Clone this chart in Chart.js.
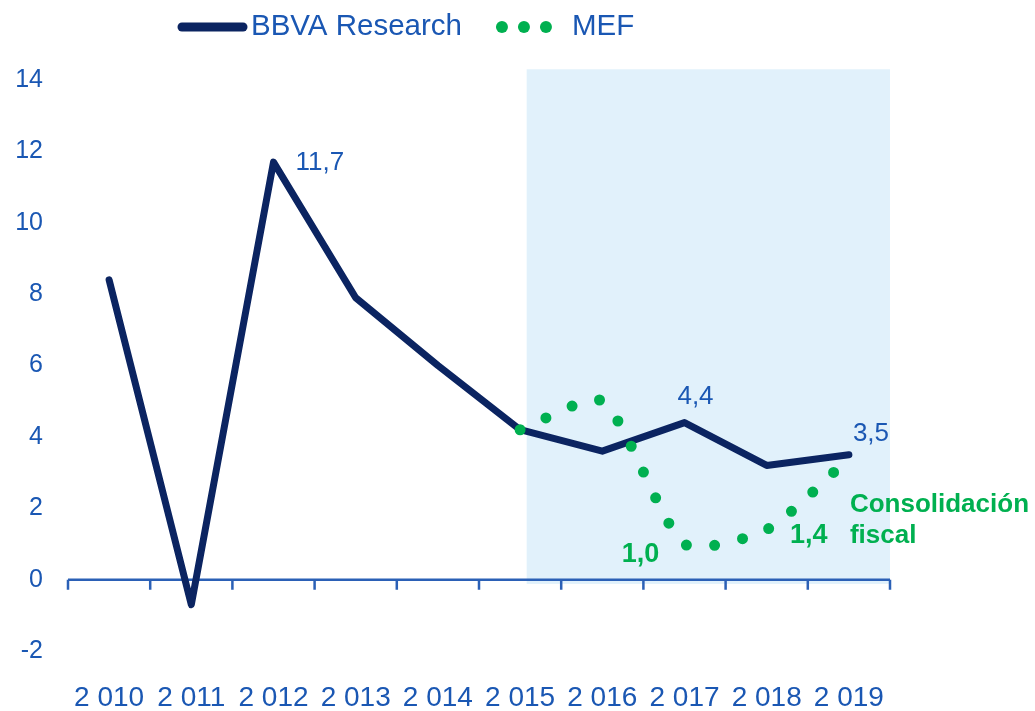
<!DOCTYPE html>
<html>
<head>
<meta charset="utf-8">
<script src="https://cdn.jsdelivr.net/npm/chart.js@4.4.1/dist/chart.umd.min.js"></script>
<style>
  html, body { margin: 0; padding: 0; background: #fff; }
</style>
</head>
<body>
<canvas id="chart" width="1035" height="711"></canvas>
<script>
// data
const years = ["2010", "2011", "2012", "2013", "2014", "2015", "2016", "2017", "2018", "2019"];
const bbvaValues = [8.4, -0.7, 11.7, 7.9, 6.0, 4.2, 3.6, 4.4, 3.2, 3.5];
const mefValues = [null, null, null, null, null, 4.2, 5.0, 1.0, 1.4, 3.4];
const yMin = -2, yMax = 14, yStep = 2;
// shaded forecast band (category index / value units)
const shadeFrom = 5.08, shadeTop = 14.3, shadeBottom = -0.12;

const NAVY = "#0b2461";
const GREEN = "#00b050";
const BLUE = "#1a57b3";
const SHADE = "#e1f1fb";
const FONT = "'Liberation Sans', Arial, sans-serif";

const fmt = (v) => v.toFixed(1).replace(".", ",");

// value labels: which point, how to place it
const pointLabels = [
  { ds: 0, i: 2, dx: 22, dy: 1, align: "left", color: BLUE, weight: "normal", size: 26 },
  { ds: 0, i: 7, dx: 11, dy: -26, align: "center", color: BLUE, weight: "normal", size: 26 },
  { ds: 0, i: 9, dx: 4, dy: -21, align: "left", color: BLUE, weight: "normal", size: 26 },
  { ds: 1, i: 7, dx: -44, dy: 11, align: "center", color: GREEN, weight: "bold", size: 27 },
  { ds: 1, i: 8, dx: 42, dy: 6, align: "center", color: GREEN, weight: "bold", size: 27 },
];
const noteLines = ["Consolidación", "fiscal"];

const bandPlugin = {
  id: "band",
  beforeDatasetsDraw(chart) {
    const { ctx, chartArea, scales: { x, y } } = chart;
    ctx.save();
    // shaded band
    const x0 = x.getPixelForValue(shadeFrom);
    const y0 = y.getPixelForValue(shadeTop);
    const y1 = y.getPixelForValue(shadeBottom);
    ctx.fillStyle = SHADE;
    ctx.fillRect(x0, y0, chartArea.right - x0, y1 - y0);
    // zero axis with tick marks between categories
    const zy = y.getPixelForValue(0);
    ctx.strokeStyle = "#2b60b6";
    ctx.lineWidth = 2.5;
    ctx.beginPath();
    ctx.moveTo(chartArea.left, zy);
    ctx.lineTo(chartArea.right, zy);
    for (let i = 0; i <= years.length; i++) {
      const tx = x.getPixelForValue(i - 0.5);
      ctx.moveTo(tx, zy);
      ctx.lineTo(tx, zy + 10);
    }
    ctx.stroke();
    ctx.restore();
  },
  afterDatasetsDraw(chart) {
    const { ctx } = chart;
    ctx.save();
    ctx.textBaseline = "middle";
    pointLabels.forEach((l) => {
      const el = chart.getDatasetMeta(l.ds).data[l.i];
      const v = chart.data.datasets[l.ds].data[l.i];
      ctx.font = `${l.weight} ${l.size}px ${FONT}`;
      ctx.fillStyle = l.color;
      ctx.textAlign = l.align;
      ctx.fillText(fmt(v), el.x + l.dx, el.y + l.dy);
    });
    // note next to the MEF end point
    const last = chart.getDatasetMeta(1).data[9];
    ctx.font = `bold 26px ${FONT}`;
    ctx.fillStyle = GREEN;
    ctx.textAlign = "left";
    noteLines.forEach((t, k) => ctx.fillText(t, last.x + 1, last.y + 47 + k * 31));

    // legend
    const ly = 27;
    let lx = chart.chartArea.left + 114;
    ctx.strokeStyle = NAVY;
    ctx.lineWidth = 9;
    ctx.lineCap = "round";
    ctx.beginPath();
    ctx.moveTo(lx, ly);
    ctx.lineTo(lx + 61, ly);
    ctx.stroke();
    ctx.font = `29.5px ${FONT}`;
    ctx.fillStyle = BLUE;
    ctx.fillText(chart.data.datasets[0].label, lx + 69, ly);
    lx = lx + 69 + ctx.measureText(chart.data.datasets[0].label).width + 40;
    ctx.fillStyle = GREEN;
    for (let k = 0; k < 3; k++) {
      ctx.beginPath();
      ctx.arc(lx + k * 22, ly, 6, 0, Math.PI * 2);
      ctx.fill();
    }
    ctx.fillStyle = BLUE;
    ctx.fillText(chart.data.datasets[1].label, lx + 70, ly);
    ctx.restore();
  },
};

new Chart(document.getElementById("chart"), {
  type: "line",
  data: {
    labels: years,
    datasets: [
      {
        label: "BBVA Research",
        data: bbvaValues,
        borderColor: NAVY,
        borderWidth: 7,
        borderJoinStyle: "round",
        borderCapStyle: "round",
        pointRadius: 0,
        tension: 0,
        order: 2,
      },
      {
        label: "MEF",
        data: mefValues,
        borderColor: GREEN,
        borderWidth: 11,
        borderDash: [0, 28.5],
        borderCapStyle: "round",
        pointRadius: 0,
        tension: 0.22,
        order: 1,
      },
    ],
  },
  options: {
    responsive: false,
    animation: false,
    layout: { padding: { top: 80, right: 145, bottom: 0, left: 0 } },
    plugins: { legend: { display: false }, tooltip: { enabled: false } },
    scales: {
      x: {
        offset: true,
        grid: { display: false },
        border: { display: false },
        afterFit: (s) => { s.height = 60; },
        ticks: {
          color: BLUE,
          padding: 22,
          autoSkip: false,
          maxRotation: 0,
          font: { family: FONT, size: 28 },
          callback: (v, i) => years[i].slice(0, 1) + " " + years[i].slice(1),
        },
      },
      y: {
        min: yMin,
        max: yMax,
        grid: { display: false },
        border: { display: false },
        afterFit: (s) => { s.width = 68; },
        ticks: {
          stepSize: yStep,
          color: BLUE,
          padding: 17,
          font: { family: FONT, size: 25 },
        },
      },
    },
  },
  plugins: [bandPlugin],
});
</script>
</body>
</html>
